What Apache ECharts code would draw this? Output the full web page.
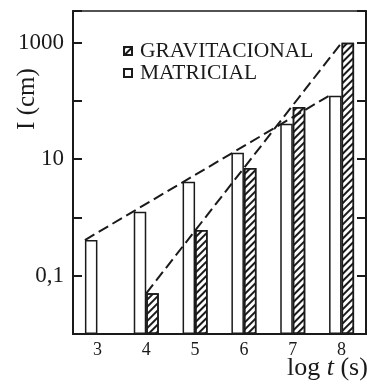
<!DOCTYPE html>
<html>
<head>
<meta charset="utf-8">
<script src="https://cdn.jsdelivr.net/npm/echarts@6/dist/echarts.min.js"></script>
<style>
html,body{margin:0;padding:0;background:#fff;}
#chart{width:367px;height:385px;}
</style>
</head>
<body>
<div id="chart"></div>
<script>
// ---- data ----
var categories = ['3', '4', '5', '6', '7', '8'];          // log t (s)
var logT = [3, 4, 5, 6, 7, 8];
var gravitacional = [null, 0.05, 0.61, 7.1, 79, 1000];    // I (cm)
var matricial = [0.41, 1.25, 4.1, 12.9, 40.6, 123];       // I (cm)
var yLabels = {'3': '1000', '1': '10', '-1': '0,1'};      // shown tick labels (by decade exponent)

// ---- layout ----
var GRID = {left: 73, right: 1, top: 11, bottom: 51};
var BAR_W = 12.5;
var chartW = 367 - GRID.left - GRID.right;
var band = chartW / categories.length;
var leftEdge = BAR_W / band; // offset (in category units) from centre to white bar's left edge

// dashed trend lines through the bar tops (first and last bars of each series)
function firstIdx(a){for(var i=0;i<a.length;i++){if(a[i]!=null)return i;}}
var iu = firstIdx(matricial), ig = firstIdx(gravitacional), n = logT.length - 1;
var upperTrend = [[logT[iu] - leftEdge, matricial[iu]], [logT[n] - leftEdge, matricial[n]]];
var lowerTrend = [[logT[ig], gravitacional[ig]], [logT[n], gravitacional[n]]];

var FONT = 'Liberation Serif';
var INK = '#1a1a1a';
var hatch = {
  symbol: 'rect', symbolSize: 1, color: INK,
  dashArrayX: [1, 0], dashArrayY: [1.6, 2.4], rotation: -Math.PI / 4
};

var chart = echarts.init(document.getElementById('chart'), null, {renderer: 'canvas'});
var yCommon = {
  type: 'log', logBase: 10, min: 0.01, max: 3500, startValue: 0.01,
  splitLine: {show: false}, minorTick: {show: false},
  axisLine: {show: true, lineStyle: {color: INK, width: 2}},
  axisTick: {show: true, inside: true, length: 9, lineStyle: {color: INK, width: 2}}
};
chart.setOption({
  backgroundColor: '#fff',
  animation: false,
  grid: {left: GRID.left, right: GRID.right, top: GRID.top, bottom: GRID.bottom,
         show: true, borderColor: INK, borderWidth: 1.5, backgroundColor: 'transparent'},
  legend: {
    orient: 'vertical', left: 118, top: 35, itemGap: 0,
    itemWidth: 8, itemHeight: 8, icon: 'rect',
    data: ['GRAVITACIONAL', 'MATRICIAL'],
    textStyle: {fontFamily: FONT, fontSize: 21.5, color: INK, padding: [0, 0, 0, 3]}
  },
  xAxis: [{
    type: 'category', data: categories,
    axisLine: {show: true, lineStyle: {color: INK, width: 2}},
    axisTick: {show: false},
    axisLabel: {fontFamily: FONT, fontSize: 18, color: INK, margin: 7}
  }, {
    type: 'value', min: logT[0] - 0.5, max: logT[n] + 0.5, show: false
  }],
  yAxis: [
    Object.assign({}, yCommon, {
      position: 'left',
      axisLabel: {
        fontFamily: FONT, fontSize: 23, color: INK, margin: 9,
        formatter: function (v) {
          var e = String(Math.round(Math.log10(v)));
          return (Math.abs(Math.log10(v) - Math.round(Math.log10(v))) < 1e-6 && yLabels[e]) ? yLabels[e] : '';
        }
      }
    }),
    Object.assign({}, yCommon, {position: 'right', axisLabel: {show: false}})
  ],
  graphic: [
    {type: 'text', x: 27, y: 99, rotation: Math.PI / 2,
     style: {text: 'I (cm)', font: '25px "Liberation Serif"', fill: INK,
             align: 'center', verticalAlign: 'middle'}},
    {type: 'text', left: 287, top: 355,
     style: {
       text: '{a|log }{b|t}{a| (s)}',
       rich: {
         a: {fontFamily: FONT, fontSize: 26, fill: INK, color: INK},
         b: {fontFamily: FONT, fontSize: 26, fontStyle: 'italic', fill: INK, color: INK}
       }
     }}
  ],
  series: [
    {
      name: 'MATRICIAL', type: 'bar', data: matricial, barWidth: BAR_W, barGap: '0%',
      itemStyle: {color: '#fff', borderColor: INK, borderWidth: 1.5}
    },
    {
      name: 'GRAVITACIONAL', type: 'bar', data: gravitacional, barWidth: BAR_W, barGap: '0%',
      itemStyle: {color: '#fff', borderColor: INK, borderWidth: 1.5, decal: hatch}
    },
    {
      name: 'upper', type: 'line', xAxisIndex: 1, yAxisIndex: 0, data: upperTrend,
      symbol: 'none', silent: true,
      lineStyle: {color: INK, width: 2, type: [11, 5]}
    },
    {
      name: 'lower', type: 'line', xAxisIndex: 1, yAxisIndex: 0, data: lowerTrend,
      symbol: 'none', silent: true,
      lineStyle: {color: INK, width: 2, type: [11, 5]}
    }
  ]
});
</script>
</body>
</html>
